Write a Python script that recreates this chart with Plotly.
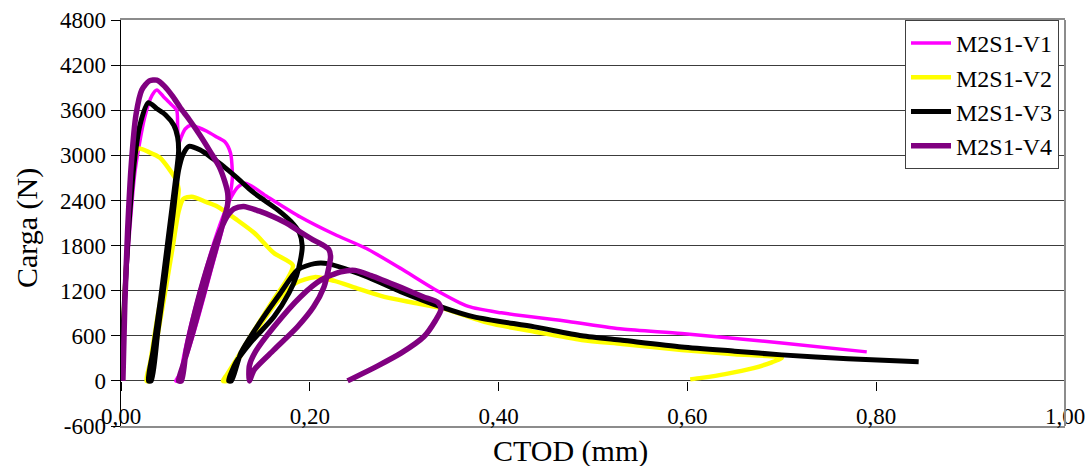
import plotly.graph_objects as go

# ---------------- data ----------------
series_names = ["M2S1-V1", "M2S1-V2", "M2S1-V3", "M2S1-V4"]
series_colors = ["#FF00FF", "#FFFF00", "#000000", "#800080"]
series_widths = [3.5, 4.5, 5, 5.5]

# M2S1-V1 (CTOD mm, load N)
v1_x = [0.000, 0.003, 0.008, 0.015, 0.025, 0.033, 0.038, 0.045, 0.053, 0.059, 0.060, 0.061,
        0.064, 0.068, 0.074, 0.082, 0.091, 0.102, 0.110, 0.116, 0.118, 0.116,
        0.108, 0.095, 0.082, 0.070, 0.062, 0.058,
        0.062, 0.066, 0.075, 0.088, 0.100, 0.110, 0.117, 0.124, 0.132,
        0.155, 0.190, 0.226, 0.260, 0.297, 0.332, 0.368, 0.403, 0.474, 0.531, 0.594, 0.700, 0.790]
v1_y = [0, 800, 1800, 2800, 3500, 3800, 3870, 3780, 3680, 3600, 3400, 3150,
        3250, 3350, 3400, 3370, 3320, 3240, 3180, 3030, 2720, 2500,
        2050, 1450, 850, 350, 80, 0,
        0, 300, 800, 1400, 1900, 2250, 2450, 2580, 2630,
        2450, 2180, 1950, 1760, 1490, 1220, 990, 905, 790, 690, 630, 505, 386]

# M2S1-V2
v2_x = [0.000, 0.003, 0.007, 0.012, 0.018, 0.030, 0.041, 0.052, 0.058, 0.061,
        0.060, 0.055, 0.047, 0.038, 0.031, 0.027,
        0.030, 0.038, 0.047, 0.055, 0.061, 0.066, 0.075, 0.090, 0.102, 0.123, 0.141, 0.162, 0.182,
        0.176, 0.160, 0.140, 0.122, 0.112, 0.108,
        0.113, 0.125, 0.145, 0.165, 0.185, 0.205, 0.226, 0.250, 0.279, 0.310, 0.339, 0.389,
        0.440, 0.488, 0.531, 0.594, 0.650, 0.700,
        0.690, 0.670, 0.640, 0.615, 0.603]
v2_y = [0, 900, 1900, 2700, 3090, 3040, 2970, 2800, 2680, 2550,
        2400, 2050, 1450, 800, 250, 0,
        0, 550, 1200, 1800, 2250, 2420, 2450, 2380, 2320, 2140, 1970, 1700, 1540,
        1350, 1050, 650, 280, 80, 0,
        0, 300, 700, 1050, 1300, 1380, 1330, 1230, 1117, 1040, 971, 771,
        650, 545, 492, 412, 355, 306,
        250, 170, 90, 40, 20]

# M2S1-V3
v3_x = [0.000, 0.003, 0.008, 0.014, 0.020, 0.029, 0.038, 0.047, 0.056, 0.060, 0.061,
        0.058, 0.050, 0.042, 0.034, 0.029,
        0.032, 0.039, 0.047, 0.055, 0.061, 0.066, 0.072, 0.084, 0.097, 0.109, 0.123, 0.137,
        0.152, 0.166, 0.180, 0.189, 0.192,
        0.190, 0.186, 0.178, 0.162, 0.137, 0.122, 0.114,
        0.117, 0.127, 0.144, 0.169, 0.187, 0.205, 0.219, 0.240, 0.261, 0.297, 0.339, 0.374,
        0.438, 0.488, 0.531, 0.594, 0.650, 0.700, 0.770, 0.845]
v3_y = [0, 900, 2000, 2900, 3400, 3700, 3620, 3540, 3400, 3240, 3050,
        2700, 1900, 1100, 400, 0,
        0, 650, 1400, 2200, 2800, 3020, 3120, 3070, 2960, 2850, 2700, 2540,
        2400, 2275, 2120, 1970, 1790,
        1600, 1400, 1170, 853, 505, 250, 0,
        0, 373, 720, 1170, 1476, 1560, 1560, 1480, 1383, 1184, 985, 851,
        718, 600, 540, 452, 395, 346, 295, 253]

# M2S1-V4
v4_x = [0.002, 0.004, 0.007, 0.011, 0.016, 0.022, 0.030, 0.038, 0.046, 0.055, 0.063, 0.072,
        0.083, 0.095, 0.104, 0.110, 0.113, 0.113,
        0.108, 0.098, 0.086, 0.075, 0.066, 0.061,
        0.064, 0.069, 0.078, 0.090, 0.102, 0.112, 0.120, 0.130, 0.146, 0.162, 0.178, 0.190,
        0.203, 0.212, 0.220, 0.222, 0.220,
        0.215, 0.204, 0.187, 0.162, 0.141, 0.136,
        0.136, 0.142, 0.162, 0.190, 0.212, 0.233, 0.248, 0.265, 0.297, 0.320, 0.336,
        0.339, 0.333, 0.321, 0.297, 0.272, 0.240]
v4_y = [0, 1000, 2000, 2900, 3550, 3870, 3990, 4000, 3920, 3780, 3630, 3480,
        3280, 3040, 2850, 2650, 2500, 2350,
        2100, 1650, 1100, 600, 220, 0,
        0, 400, 900, 1450, 1900, 2180, 2290, 2320, 2260, 2180, 2080, 1980,
        1880, 1820, 1750, 1650, 1500,
        1250, 985, 720, 412, 146, 0,
        200, 380, 720, 1117, 1343, 1450, 1470, 1400, 1240, 1120, 1040,
        950, 800, 590, 372, 200, 0]

series_x = [v1_x, v2_x, v3_x, v4_x]
series_y = [v1_y, v2_y, v3_y, v4_y]

x_tickvals = [0.0, 0.2, 0.4, 0.6, 0.8, 1.0]
x_ticktext = ["0,00", "0,20", "0,40", "0,60", "0,80", "1,00"]
y_tickvals = [-600, 0, 600, 1200, 1800, 2400, 3000, 3600, 4200, 4800]
y_ticktext = ["-600", "0", "600", "1200", "1800", "2400", "3000", "3600", "4200", "4800"]
x_title = "CTOD (mm)"
y_title = "Carga (N)"

# ---------------- figure ----------------
FONT = "Liberation Serif, Times New Roman, serif"
W, H = 1091, 466
ML, MR, MT, MB = 121, 26, 20, 40
y_min, y_max = -600, 4800
x_min, x_max = 0.0, 1.0

fig = go.Figure()
for name, col, lw, xs, ys in zip(series_names, series_colors, series_widths, series_x, series_y):
    fig.add_trace(go.Scatter(
        x=xs, y=ys, mode="lines", name=name,
        line=dict(color=col, width=lw, shape="spline", smoothing=0.7),
        hoverinfo="skip",
    ))

# helper (empty) trace so the tick-only axis at y=0 is rendered
fig.add_trace(go.Scatter(x=x_tickvals, y=[None] * len(x_tickvals), xaxis="x2",
                         mode="lines", showlegend=False, hoverinfo="skip"))

zero_pos = (0 - y_min) / (y_max - y_min)
plot_w = W - ML - MR
plot_h = H - MT - MB

fig.update_layout(
    width=W, height=H,
    margin=dict(l=ML, r=MR, t=MT, b=MB, autoexpand=False),
    paper_bgcolor="white", plot_bgcolor="white",
    font=dict(family=FONT, color="black"),
    showlegend=True,
    hovermode=False,
    xaxis=dict(
        range=[x_min, x_max], tickvals=x_tickvals, ticktext=x_ticktext,
        showgrid=False, zeroline=False, automargin=False,
        showline=True, mirror=True, linecolor="#8c8c8c", linewidth=2,
        ticks="", tickfont=dict(family=FONT, size=23, color="black"),
        ticklabelstandoff=-32,
    ),
    xaxis2=dict(
        range=[x_min, x_max], overlaying="x", anchor="free", position=zero_pos,
        tickvals=x_tickvals, showticklabels=False, ticks="outside", ticklen=9,
        tickcolor="black", tickwidth=1, showgrid=False, zeroline=False, showline=False,
        automargin=False,
    ),
    yaxis=dict(
        range=[y_min, y_max], tickvals=y_tickvals, ticktext=y_ticktext,
        showgrid=True, gridcolor="#3c3c3c", gridwidth=1, zeroline=False, automargin=False,
        showline=True, linecolor="black", linewidth=1.5,
        ticks="outside", ticklen=9, tickcolor="black", tickwidth=1,
        tickfont=dict(family=FONT, size=23, color="black"),
    ),
    legend=dict(
        x=(905 - ML) / plot_w, y=1, xanchor="left", yanchor="top",
        bgcolor="white", bordercolor="#404040", borderwidth=1,
        font=dict(family=FONT, size=24, color="black"),
        itemwidth=40, tracegroupgap=0,
    ),
    shapes=[dict(type="line", xref="paper", yref="paper", x0=1, x1=1, y0=0, y1=1,
                 line=dict(color="#8c8c8c", width=2))],
    annotations=[
        dict(text=x_title, xref="paper", yref="paper",
             x=(570 - ML) / plot_w, y=-(451 - (H - MB)) / plot_h,
             xanchor="center", yanchor="middle", showarrow=False,
             font=dict(family=FONT, size=30, color="black")),
        dict(text=y_title, xref="paper", yref="paper",
             x=(27 - ML) / plot_w, y=((H - MB) - 228) / plot_h,
             xanchor="center", yanchor="middle", showarrow=False, textangle=-90,
             font=dict(family=FONT, size=30, color="black")),
    ],
)

fig.write_html("out.html", config={"displayModeBar": False, "staticPlot": True},
               post_script="document.body.style.margin='0';")
